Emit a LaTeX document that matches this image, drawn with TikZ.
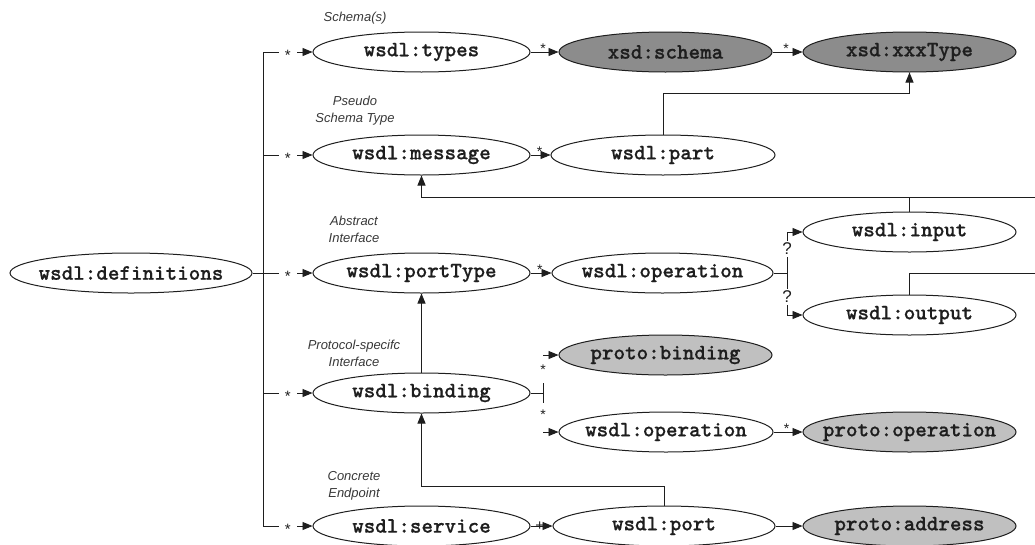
\documentclass[tikz,border=0pt]{standalone}
\usepackage{fontspec}
\usetikzlibrary{arrows.meta,shapes.geometric}
\newfontfamily\labelfont{Liberation Sans}
\newfontfamily\monobold{lmmonolt10-bold}[Extension=.otf, FakeBold=0.6]
\newcommand\codefnt{\monobold\fontsize{22}{24}\selectfont}
\definecolor{xsdfill}{HTML}{8C8C8C}
\definecolor{protofill}{HTML}{C0C0C0}
\definecolor{ink}{HTML}{1E1E1E}
\definecolor{notegray}{HTML}{383838}
\tikzset{
  oval/.style={ellipse, draw=ink, line width=1pt, inner xsep=-25pt, inner ysep=0pt,
    minimum height=40pt, font=\codefnt, text=ink},
  xsd/.style={oval, fill=xsdfill},
  proto/.style={oval, fill=protofill},
  conn/.style={draw=ink, line width=0.9pt},
  arr/.style={conn, -{Triangle[length=10pt,width=8pt]}},
  note/.style={font=\labelfont\itshape\fontsize{13}{17}\selectfont,
    text=notegray, align=center, inner sep=0pt},
  starmid/.style={font=\labelfont\fontsize{15}{15}\selectfont, text=ink,
    inner sep=0pt, fill=white, inner xsep=6pt, inner ysep=1pt, yshift=-3.3pt},
  starup/.style={font=\labelfont\fontsize{14}{14}\selectfont, text=ink,
    inner sep=0pt, yshift=3pt},
  qmark/.style={font=\labelfont\fontsize{17}{17}\selectfont, text=ink,
    fill=white, inner xsep=1pt, inner ysep=2pt},
  plus/.style={font=\labelfont\fontsize{15}{15}\selectfont, text=ink,
    inner sep=0pt}
}
\begin{document}
\begin{tikzpicture}[x=1pt, y=-1pt]
\useasboundingbox (0,0) rectangle (1035,544);

% root element
\node[oval, minimum width=242pt] (defs) at (131,273) {wsdl:definitions};

% first level
\node[oval, minimum width=217pt] (types)    at (421.5,52)  {wsdl:types};
\node[oval, minimum width=217pt] (message)  at (421.5,155) {wsdl:message};
\node[oval, minimum width=217pt] (porttype) at (421.5,273) {wsdl:portType};
\node[oval, minimum width=217pt] (bind)     at (421.5,393) {wsdl:binding};
\node[oval, minimum width=217pt] (service)  at (421.5,526) {wsdl:service};

% second level
\node[xsd,   minimum width=213pt] (schema) at (665.5,52)  {xsd:schema};
\node[oval,  minimum width=224pt] (part)   at (663,155)   {wsdl:part};
\node[oval,  minimum width=221pt] (op1)    at (662.5,273) {wsdl:operation};
\node[proto, minimum width=213pt] (pbind)  at (665.5,355) {proto:binding};
\node[oval,  minimum width=214pt] (op2)    at (666,432)   {wsdl:operation};
\node[oval,  minimum width=222pt] (port)   at (664,526)   {wsdl:port};

% third level
\node[xsd,   minimum width=213pt] (xxx)    at (909.5,52)  {xsd:xxxType};
\node[oval,  minimum width=213pt] (input)  at (909.5,232) {wsdl:input};
\node[oval,  minimum width=213pt] (output) at (909.5,315) {wsdl:output};
\node[proto, minimum width=213pt] (pop)    at (909.5,432) {proto:operation};
\node[proto, minimum width=213pt] (paddr)  at (909.5,526) {proto:address};

% annotations
\node[note] at (355,18)    {Schema(s)};
\node[note] at (355,110.5) {Pseudo\\Schema Type};
\node[note] at (354,229.5) {Abstract\\Interface};
\node[note] at (354,353.5) {Protocol-specifc\\Interface};
\node[note] at (354,485.5) {Concrete\\Endpoint};

% trunk from the root to the first level
\coordinate (trunk) at (263,273);
\draw[conn] (defs.east) -- (trunk);
\draw[conn] (trunk |- types) -- (trunk |- service);
\foreach \n in {types,message,porttype,bind,service}{
  \draw[arr] (trunk |- \n) -- (\n.west) node[starmid, pos=0.5] {*};
}

% one-to-many children
\draw[arr] (types.east)   -- (schema.west) node[starup, pos=0.45] {*};
\draw[arr] (schema.east)  -- (xxx.west)    node[starup, pos=0.45] {*};
\draw[arr] (message.east) -- (part.west)   node[starup, pos=0.45] {*};
\draw[arr] (porttype.east) -- (op1.west)   node[starup, pos=0.45] {*};
\draw[arr] (op2.east)     -- (pop.west)    node[starup, pos=0.45] {*};
\draw[arr] (service.east) -- (port.west)   node[plus, pos=0.42] {+};
\draw[arr] (port.east)    -- (paddr.west);

% part refers to a schema type
\coordinate (pk) at (0,93);
\draw[arr] (part.north) -- (part.north |- pk) -| (xxx.south);

% operation: optional input and output
\coordinate (oj) at (787,273);
\draw[arr] (op1.east) -- (oj) |- (input.west);
\draw[arr] (oj) |- (output.west);
\node[qmark] at (787,249) {?};
\node[qmark] at (787,297) {?};

% input and output refer back to message
\coordinate (fb) at (1035,197);
\coordinate (fo) at (1035,273);
\draw[arr] (fb) -| (message.south);
\draw[conn] (input.north) -- (input.north |- fb);
\draw[conn] (output.north) |- (fo);

% binding implements a portType
\draw[arr] (bind.north) -- (porttype.south);

% binding details
\coordinate (bj) at (543,393);
\draw[conn] (bind.east) -- (bj);
\draw[conn] (bj) ++(0,-10) -- ++(0,20);
\draw[arr] (bj |- pbind) -- (pbind.west);
\draw[arr] (bj |- op2) -- (op2.west);
\node[starup, yshift=-7pt] at (543,366) {*};
\node[starup, yshift=-7pt] at (543,411) {*};

% port refers to a binding
\coordinate (pb) at (0,486);
\draw[arr] (port.north) -- (port.north |- pb) -| (bind.south);
\end{tikzpicture}
\end{document}
